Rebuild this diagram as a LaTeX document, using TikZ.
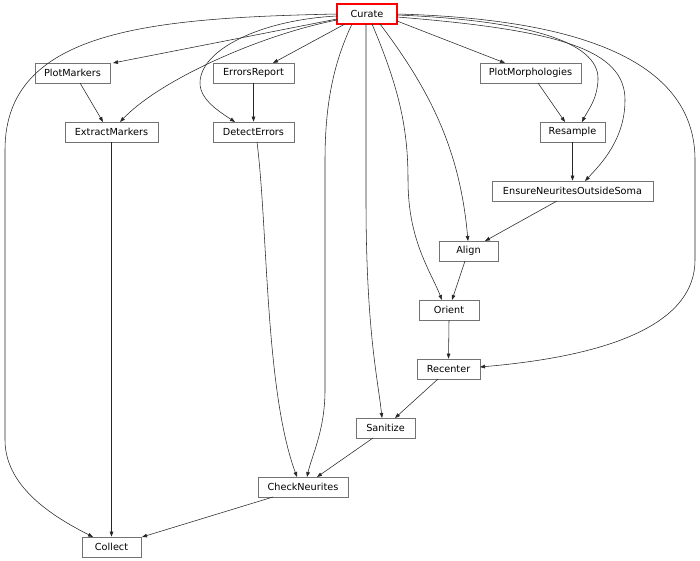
\documentclass[tikz,border=0pt]{standalone}
\usepackage{fontspec}
\setmainfont{DejaVu Sans}
\usetikzlibrary{arrows.meta}
\begin{document}
\begin{tikzpicture}[x=1pt,y=-1pt,
  box/.style={draw=black!55, line width=0.7pt, rectangle, minimum height=20pt, inner sep=0pt,
    font=\fontsize{9.7}{10}\selectfont, text=black},
  redbox/.style={box, draw=red, line width=1.4pt},
  edge/.style={draw=black!85, line width=0.55pt, -{Triangle[length=5pt,width=3.6pt]}}]
\useasboundingbox (0,0) rectangle (700,561);
\fill[white] (0,0) rectangle (700,561);
% nodes
\node[redbox, minimum width=60pt] (C) at (367,14) {Curate};
\node[box, minimum width=75pt] (PM) at (72.5,73) {PlotMarkers};
\node[box, minimum width=81pt] (ER) at (253.5,73) {ErrorsReport};
\node[box, minimum width=101pt] (PMo) at (530.5,73) {PlotMorphologies};
\node[box, minimum width=93pt] (EM) at (111.5,132) {ExtractMarkers};
\node[box, minimum width=81pt] (DE) at (253.5,132) {DetectErrors};
\node[box, minimum width=65pt] (RS) at (572.5,132) {Resample};
\node[box, minimum width=161pt] (EN) at (572.5,191) {EnsureNeuritesOutsideSoma};
\node[box, minimum width=59pt] (AL) at (468.5,251) {Align};
\node[box, minimum width=60pt] (OR) at (449,310) {Orient};
\node[box, minimum width=63pt] (RC) at (448.5,369) {Recenter};
\node[box, minimum width=59pt] (SA) at (385.5,428) {Sanitize};
\node[box, minimum width=90pt] (CN) at (303,487) {CheckNeurites};
\node[box, minimum width=59pt] (CO) at (111.5,547) {Collect};
% edges from Curate
\draw[edge] ([shift={(-30,5)}]C.center) -- ([shift={(40.5,-10)}]PM.center);
\draw[edge] ([shift={(-30,6)}]C.center) .. controls (260,35) and (160,80) .. ([shift={(8.5,-10)}]EM.center);
\draw[edge] ([shift={(-22,10)}]C.center) -- ([shift={(19.5,-10)}]ER.center);
\draw[edge] ([shift={(-30,2)}]C.center) .. controls (260,20) and (200,50) .. (200,83) .. controls (200,100) and (220,112) .. ([shift={(-18.5,-10)}]DE.center);
\draw[edge] ([shift={(-30,0)}]C.center) .. controls (150,18) and (5,30) .. (5,150) -- (5,440) .. controls (5,490) and (60,520) .. ([shift={(-18.5,-10)}]CO.center);
\draw[edge] ([shift={(-15,10)}]C.center) .. controls (335,60) and (325,100) .. (325,160) -- (325,390) .. controls (325,430) and (312,455) .. ([shift={(4,-10)}]CN.center);
\draw[edge] ([shift={(-1,10)}]C.center) -- (366,200) .. controls (366,330) and (378,380) .. ([shift={(-3.5,-10)}]SA.center);
\draw[edge] ([shift={(5,10)}]C.center) .. controls (400,90) and (408,130) .. (408,180) .. controls (408,240) and (430,270) .. ([shift={(-7,-10)}]OR.center);
\draw[edge] ([shift={(13,10)}]C.center) .. controls (430,90) and (460,150) .. ([shift={(-0.5,-10)}]AL.center);
\draw[edge] ([shift={(30,7)}]C.center) -- ([shift={(-25.5,-10)}]PMo.center);
\draw[edge] ([shift={(30,1)}]C.center) .. controls (520,20) and (600,40) .. (598,80) .. controls (597,100) and (588,110) .. ([shift={(9.5,-10)}]RS.center);
\draw[edge] ([shift={(30,3)}]C.center) .. controls (560,30) and (625,50) .. (625,100) .. controls (625,140) and (600,165) .. ([shift={(12.5,-10)}]EN.center);
\draw[edge] ([shift={(30,0)}]C.center) .. controls (620,20) and (695,80) .. (695,160) -- (695,260) .. controls (695,320) and (620,355) .. ([shift={(31.5,-2)}]RC.center);
% other edges
\draw[edge] ([shift={(7.5,10)}]PM.center) -- ([shift={(-8.5,-10)}]EM.center);
\draw[edge] (ER.south) -- (DE.north);
\draw[edge] ([shift={(3.5,10)}]DE.center) .. controls (268,230) and (265,390) .. ([shift={(-6,-10)}]CN.center);
\draw[edge] ([shift={(7.5,10)}]PMo.center) -- ([shift={(-7.5,-10)}]RS.center);
\draw[edge] (RS.south) -- (EN.north);
\draw[edge] ([shift={(-15.5,10)}]EN.center) -- ([shift={(16.5,-10)}]AL.center);
\draw[edge] ([shift={(-3.5,10)}]AL.center) -- ([shift={(3,-10)}]OR.center);
\draw[edge] (OR.south) -- (RC.north);
\draw[edge] ([shift={(-10.5,10)}]RC.center) -- ([shift={(9.5,-10)}]SA.center);
\draw[edge] ([shift={(-12.5,10)}]SA.center) -- ([shift={(14,-10)}]CN.center);
\draw[edge] (EM.south) -- (CO.north);
\draw[edge] ([shift={(-30,10)}]CN.center) -- ([shift={(30.5,-10)}]CO.center);
\end{tikzpicture}
\end{document}
